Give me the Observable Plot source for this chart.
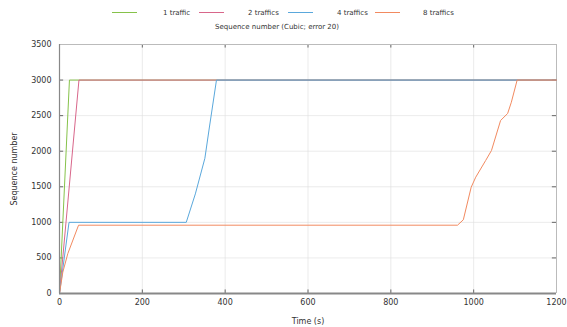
<!DOCTYPE html>
<html><head><meta charset="utf-8">
<script src="https://cdn.jsdelivr.net/npm/d3@7"></script>
<script src="https://cdn.jsdelivr.net/npm/@observablehq/plot@0.6"></script>
<style>
body{margin:0;background:#fff;font-family:"DejaVu Sans",sans-serif;color:#333;}
#wrap{position:relative;width:567px;height:327px;overflow:hidden;}
#legend{position:absolute;top:0;left:0;}
#title{position:absolute;top:23px;left:0;width:554px;text-align:center;font-size:7px;}
#chart{position:absolute;top:0;left:0;}
</style></head><body>
<div id="wrap">
<div id="chart"></div>
<svg id="legend" width="567" height="20"></svg>
<div id="title">Sequence number (Cubic; error 20)</div>
</div>
<script>
const seriesNames = ["1 traffic", "2 traffics", "4 traffics", "8 traffics"];
const colors = ["#86c24a", "#d8668a", "#5aa8dc", "#f28a60"];
const t1 = [0, 24, 1200];
const v1 = [0, 3000, 3000];
const t2 = [0, 47, 1200];
const v2 = [0, 3000, 3000];
const t4 = [0, 23, 306, 328, 351, 362, 379, 1200];
const v4 = [0, 1000, 1000, 1400, 1900, 2340, 3000, 3000];
const t8 = [0, 8, 20, 46, 961, 975, 994, 1005, 1029, 1043, 1065, 1082, 1091, 1105, 1200];
const v8 = [0, 300, 560, 960, 960, 1036, 1494, 1635, 1870, 2010, 2432, 2530, 2689, 3000, 3000];
const xTicks = [0, 200, 400, 600, 800, 1000, 1200];
const yTicks = [0, 500, 1000, 1500, 2000, 2500, 3000, 3500];

const allT = [t1, t2, t4, t8], allV = [v1, v2, v4, v8];
const data = [];
allT.forEach((ts, i) => ts.forEach((t, j) => data.push({s: seriesNames[i], t, v: allV[i][j]})));

// legend
const leg = d3.select("#legend");
const swX = [112, 199, 288, 375], lbX = [163, 248, 337, 423];
seriesNames.forEach((n, i) => {
  leg.append("line").attr("x1", swX[i]).attr("x2", swX[i] + 25).attr("y1", 12.5).attr("y2", 12.5)
    .attr("stroke", colors[i]).attr("stroke-width", 1);
  leg.append("text").attr("x", lbX[i]).attr("y", 15).attr("font-size", 7)
    .attr("font-family", "DejaVu Sans, sans-serif").attr("fill", "#333").text(n);
});

const inner = xTicks.slice(1, -1), innerY = yTicks.slice(1, -1);
const plot = Plot.plot({
  width: 567, height: 327,
  marginLeft: 59, marginRight: 11, marginTop: 44, marginBottom: 34,
  style: {fontFamily: "DejaVu Sans, sans-serif", fontSize: "8px", color: "#333", background: "#fff"},
  x: {domain: [0, 1200], ticks: xTicks, tickSize: 0, tickPadding: 6, tickFormat: d3.format("d"), label: "Time (s)", labelAnchor: "center", labelArrow: "none", labelOffset: 30},
  y: {domain: [0, 3500], ticks: yTicks, tickSize: 0, tickPadding: 8, tickFormat: d3.format("d"), label: "Sequence number", labelAnchor: "center", labelArrow: "none", labelOffset: 48},
  color: {domain: seriesNames, range: colors},
  marks: [
    Plot.ruleX(inner, {x: d => d, stroke: "#ddd", strokeWidth: 0.6}),
    Plot.ruleY(innerY, {y: d => d, stroke: "#ddd", strokeWidth: 0.6}),
    Plot.ruleX(inner, {x: d => d, y1: 0, y2: 50, stroke: "#666"}),
    Plot.ruleX(inner, {x: d => d, y1: 3500, y2: 3450, stroke: "#666"}),
    Plot.ruleY(innerY, {y: d => d, x1: 0, x2: 10, stroke: "#666"}),
    Plot.ruleY(innerY, {y: d => d, x1: 1200, x2: 1190, stroke: "#666"}),
    Plot.ruleY([3500], {stroke: "#bbb", strokeWidth: 1}),
    Plot.ruleX([1200], {stroke: "#bbb", strokeWidth: 1}),
    Plot.line(data, {x: "t", y: "v", z: "s", stroke: "s", strokeWidth: 1}),
    Plot.ruleY([0], {stroke: "#888", strokeWidth: 2}),
    Plot.ruleX([0], {stroke: "#888", strokeWidth: 1.2})
  ]
});
document.getElementById("chart").appendChild(plot);
</script>
</body></html>
